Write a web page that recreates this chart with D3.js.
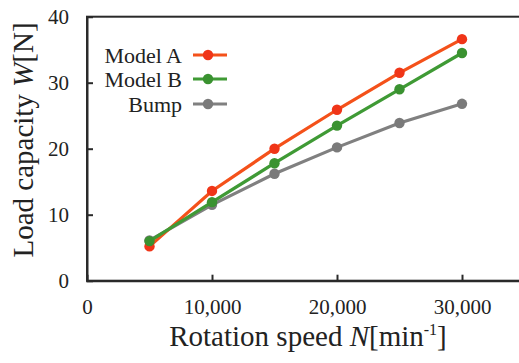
<!DOCTYPE html>
<html><head><meta charset="utf-8">
<script src="https://cdn.jsdelivr.net/npm/d3@7"></script>
<style>html,body{margin:0;padding:0;background:#fff;}svg{display:block;}svg text{font-family:"Liberation Serif","Times New Roman",serif;}</style>
</head><body><svg id="c" width="519" height="363"></svg>
<script>
const speeds = [5000, 10000, 15000, 20000, 25000, 30000];
const modelA = [5.2, 13.6, 20.0, 25.9, 31.5, 36.6];
const modelB = [6.0, 11.9, 17.8, 23.5, 29.0, 34.5];
const bump   = [6.1, 11.5, 16.2, 20.2, 23.9, 26.8];
const seriesNames = ["Model A", "Model B", "Bump"];
const xTicks = [0, 10000, 20000, 30000];
const yTicks = [0, 10, 20, 30, 40];

const svg = d3.select("#c");
const font = '"Liberation Serif","Times New Roman",serif';
const x = d3.scaleLinear().domain([0, 35000]).range([87, 524.5]);
const y = d3.scaleLinear().domain([0, 40]).range([280.7, 16.7]);
const axisColor = "#2a2a2a";

// frame
svg.append("rect").attr("x", x(0)).attr("y", y(40))
  .attr("width", x(35000) - x(0)).attr("height", y(0) - y(40))
  .attr("fill", "none").attr("stroke", axisColor).attr("stroke-width", 2);

const fmt = d3.format(",");
const gx = svg.append("g").attr("transform", `translate(0,${y(0)})`)
  .call(d3.axisBottom(x).tickValues(xTicks).tickSize(-6).tickPadding(18).tickFormat(d => d === 0 ? "0" : fmt(d)));
const gy = svg.append("g").attr("transform", `translate(${x(0)},0)`)
  .call(d3.axisLeft(y).tickValues(yTicks).tickSize(-6).tickPadding(18));
[gx, gy].forEach(g => {
  g.attr("font-family", null);
  g.select(".domain").attr("stroke", axisColor).attr("stroke-width", 2);
  g.selectAll(".tick line").attr("stroke", axisColor).attr("stroke-width", 2);
  g.selectAll(".tick text").style("font-family", font).style("font-size", "21px").attr("fill", "#222");
});
gx.selectAll(".tick").filter(d => d === 0 || d === 35000).select("line").remove();
gy.selectAll(".tick").filter(d => d === 0 || d === 40).select("line").remove();

// series
const series = [
  {name: seriesNames[2], vals: bump, line: "#808080", dot: "#7a7a7a"},
  {name: seriesNames[0], vals: modelA, line: "#f4511a", dot: "#f03518"},
  {name: seriesNames[1], vals: modelB, line: "#3f9a35", dot: "#3a9230"}
];
const lineGen = d3.line().x((d, i) => x(speeds[i])).y(d => y(d));
series.forEach(s => {
  svg.append("path").datum(s.vals).attr("d", lineGen)
    .attr("fill", "none").attr("stroke", s.line).attr("stroke-width", 3.2);
  svg.selectAll(null).data(s.vals).enter().append("circle")
    .attr("cx", (d, i) => x(speeds[i])).attr("cy", d => y(d)).attr("r", 5.2).attr("fill", s.dot);
});

// legend
const legend = [
  {name: seriesNames[0], line: "#f4511a", dot: "#f03518", yy: 55},
  {name: seriesNames[1], line: "#3f9a35", dot: "#3a9230", yy: 79},
  {name: seriesNames[2], line: "#808080", dot: "#7a7a7a", yy: 104}
];
legend.forEach(l => {
  svg.append("text").attr("x", 182).attr("y", l.yy).attr("dy", "0.35em")
    .attr("text-anchor", "end").style("font-family", font).style("font-size", "22px").attr("fill", "#222").text(l.name);
  svg.append("line").attr("x1", 193).attr("x2", 227).attr("y1", l.yy).attr("y2", l.yy)
    .attr("stroke", l.line).attr("stroke-width", 3.2);
  svg.append("circle").attr("cx", 208).attr("cy", l.yy).attr("r", 5.2).attr("fill", l.dot);
});

// axis titles
const xt = svg.append("text").attr("x", 308).attr("y", 346).attr("text-anchor", "middle")
  .style("font-family", font).style("font-size", "29px").attr("fill", "#222");
xt.append("tspan").text("Rotation speed ");
xt.append("tspan").attr("font-style", "italic").text("N");
xt.append("tspan").text("[min");
xt.append("tspan").style("font-size", "16px").attr("dy", -11).text("-1");
xt.append("tspan").attr("dy", 11).text("]");

const yt = svg.append("text").attr("transform", "translate(33,140) rotate(-90)").attr("text-anchor", "middle")
  .style("font-family", font).style("font-size", "29px").attr("fill", "#222");
yt.append("tspan").text("Load capacity ");
yt.append("tspan").attr("font-style", "italic").text("W");
yt.append("tspan").text("[N]");
</script></body></html>
